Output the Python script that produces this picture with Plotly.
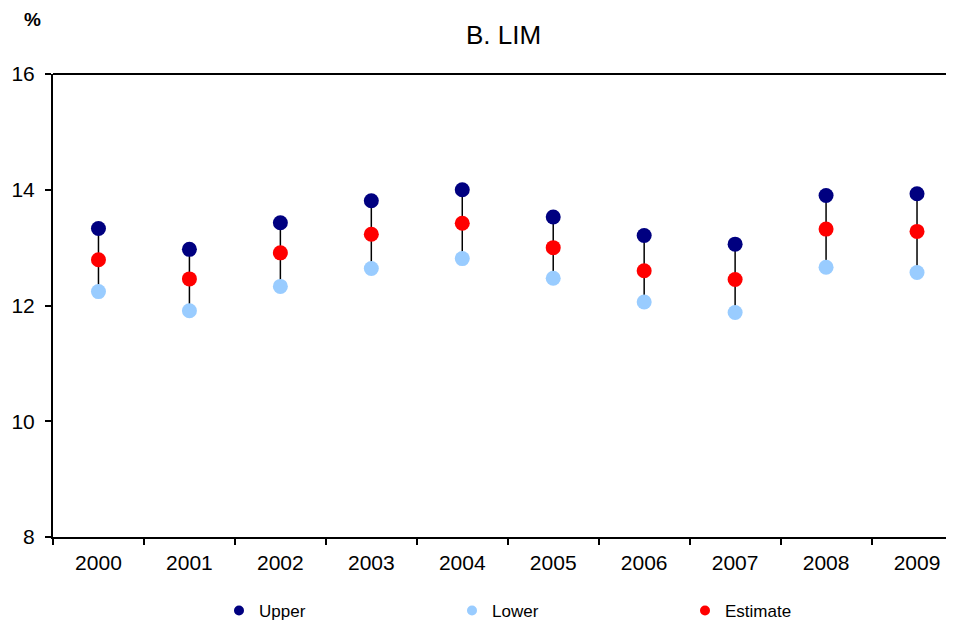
import plotly.graph_objects as go

years = ["2000", "2001", "2002", "2003", "2004", "2005", "2006", "2007", "2008", "2009"]
upper = [13.33, 12.97, 13.43, 13.81, 14.00, 13.53, 13.21, 13.06, 13.90, 13.93]
estimate = [12.79, 12.46, 12.91, 13.23, 13.42, 13.00, 12.60, 12.45, 13.32, 13.28]
lower = [12.24, 11.91, 12.33, 12.64, 12.81, 12.47, 12.06, 11.88, 12.66, 12.57]

y_ticks = [8, 10, 12, 14, 16]

FONT = "Liberation Sans, Arial, sans-serif"
C_UP, C_LO, C_EST = "#000080", "#99CCFF", "#FF0000"

# page has an 8px body margin; figure sized to fill the rest of the window
W, H = 946, 616
ML, MT, MB = 45, 66, 87
PW, PH = W - ML, H - MT - MB

fig = go.Figure()

# vertical connector lines (lower -> upper)
lx, ly = [], []
for yr, lo, up in zip(years, lower, upper):
    lx += [yr, yr, None]
    ly += [lo, up, None]
fig.add_trace(go.Scatter(x=lx, y=ly, mode="lines", line=dict(color="black", width=1.5),
                         showlegend=False, hoverinfo="skip"))

for name, vals, col in [("Upper", upper, C_UP), ("Lower", lower, C_LO), ("Estimate", estimate, C_EST)]:
    fig.add_trace(go.Scatter(x=years, y=vals, mode="markers", name=name,
                             marker=dict(color=col, size=15), showlegend=False))
for name, col in [("Upper", C_UP), ("Lower", C_LO), ("Estimate", C_EST)]:
    fig.add_trace(go.Scatter(x=[None], y=[None], mode="markers", name=name,
                             marker=dict(color=col, size=10), showlegend=True))

fig.update_layout(
    width=W, height=H,
    margin=dict(l=ML, r=0, t=MT, b=MB),
    paper_bgcolor="white", plot_bgcolor="white",
    font=dict(family=FONT, size=21, color="black"),
    title=dict(text="B. LIM", x=0.5, xref="paper", xanchor="center", y=1 - 27 / H, yanchor="middle",
               font=dict(size=26, family=FONT, color="black")),
    showlegend=True,
    legend=dict(orientation="h", x=211 / W, xanchor="left", xref="container", y=13 / H, yanchor="middle",
                yref="container",
                font=dict(size=17, family=FONT), entrywidth=188, entrywidthmode="pixels",
                itemwidth=30, traceorder="normal"),
    xaxis=dict(type="category", range=[-0.5, 9.4066], tickson="boundaries", ticks="outside", ticklen=6,
               tickwidth=2, tickcolor="black", showline=True, linewidth=2, linecolor="black",
               showgrid=False, zeroline=False, tickfont=dict(size=21), ticklabelstandoff=6),
    yaxis=dict(range=[8, 16], tickvals=y_ticks, ticks="outside", ticklen=6, tickwidth=2, tickcolor="black",
               showline=True, linewidth=2, linecolor="black", showgrid=False, zeroline=False,
               tickfont=dict(size=21), ticklabelstandoff=6),
    shapes=[dict(type="line", xref="paper", yref="paper", x0=0, x1=1, y0=1, y1=1,
                 line=dict(color="black", width=2))],
    annotations=[dict(text="<b>%</b>", xref="paper", yref="paper",
                      x=(24 - ML) / PW, y=(H - MB - 12) / PH,
                      xanchor="center", yanchor="middle",
                      showarrow=False, font=dict(size=19, family=FONT))],
)

fig.write_html("out.html")
